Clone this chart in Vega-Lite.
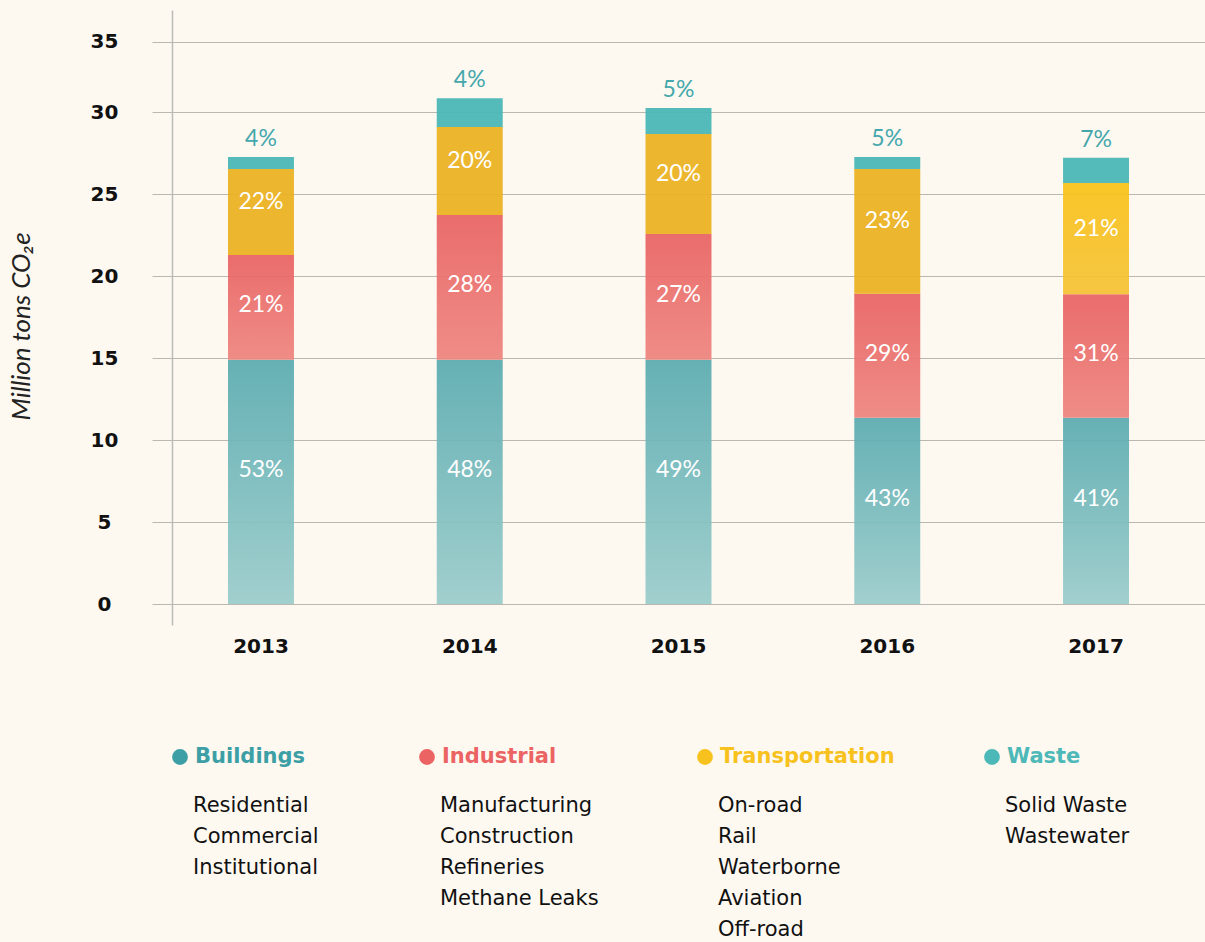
{
  "$schema": "https://vega.github.io/schema/vega-lite/v6.json",
  "width": 1053,
  "height": 615,
  "autosize": {"type": "none"},
  "padding": {"left": 152, "top": 10, "right": 0, "bottom": 317},
  "background": "#fdf9f1",
  "config": {"view": {"stroke": null}},
  "datasets": {
    "emissions": [
      {"year": 2013, "sector": "Buildings", "order": 1, "value": 14.9, "share": 0.53},
      {"year": 2013, "sector": "Industrial", "order": 2, "value": 6.38, "share": 0.21},
      {"year": 2013, "sector": "Transportation", "order": 3, "value": 5.24, "share": 0.22},
      {"year": 2013, "sector": "Waste", "order": 4, "value": 0.73, "share": 0.04},
      {"year": 2014, "sector": "Buildings", "order": 1, "value": 14.9, "share": 0.48},
      {"year": 2014, "sector": "Industrial", "order": 2, "value": 8.82, "share": 0.28},
      {"year": 2014, "sector": "Transportation", "order": 3, "value": 5.37, "share": 0.20},
      {"year": 2014, "sector": "Waste", "order": 4, "value": 1.88, "share": 0.04},
      {"year": 2015, "sector": "Buildings", "order": 1, "value": 14.9, "share": 0.49},
      {"year": 2015, "sector": "Industrial", "order": 2, "value": 7.66, "share": 0.27},
      {"year": 2015, "sector": "Transportation", "order": 3, "value": 6.10, "share": 0.20},
      {"year": 2015, "sector": "Waste", "order": 4, "value": 1.62, "share": 0.05},
      {"year": 2016, "sector": "Buildings", "order": 1, "value": 11.36, "share": 0.43},
      {"year": 2016, "sector": "Industrial", "order": 2, "value": 7.56, "share": 0.29},
      {"year": 2016, "sector": "Transportation", "order": 3, "value": 7.60, "share": 0.23},
      {"year": 2016, "sector": "Waste", "order": 4, "value": 0.74, "share": 0.05},
      {"year": 2017, "sector": "Buildings", "order": 1, "value": 11.36, "share": 0.41},
      {"year": 2017, "sector": "Industrial", "order": 2, "value": 7.52, "share": 0.31},
      {"year": 2017, "sector": "Transportation", "order": 3, "value": 6.79, "share": 0.21},
      {"year": 2017, "sector": "Waste", "order": 4, "value": 1.54, "share": 0.07}
    ],
    "legend": [
      {"group": "Buildings", "col": 0, "line": 0, "label": "Buildings", "kind": "head"},
      {"group": "Buildings", "col": 0, "line": 1, "label": "Residential", "kind": "item"},
      {"group": "Buildings", "col": 0, "line": 2, "label": "Commercial", "kind": "item"},
      {"group": "Buildings", "col": 0, "line": 3, "label": "Institutional", "kind": "item"},
      {"group": "Industrial", "col": 1, "line": 0, "label": "Industrial", "kind": "head"},
      {"group": "Industrial", "col": 1, "line": 1, "label": "Manufacturing", "kind": "item"},
      {"group": "Industrial", "col": 1, "line": 2, "label": "Construction", "kind": "item"},
      {"group": "Industrial", "col": 1, "line": 3, "label": "Refineries", "kind": "item"},
      {"group": "Industrial", "col": 1, "line": 4, "label": "Methane Leaks", "kind": "item"},
      {"group": "Transportation", "col": 2, "line": 0, "label": "Transportation", "kind": "head"},
      {"group": "Transportation", "col": 2, "line": 1, "label": "On-road", "kind": "item"},
      {"group": "Transportation", "col": 2, "line": 2, "label": "Rail", "kind": "item"},
      {"group": "Transportation", "col": 2, "line": 3, "label": "Waterborne", "kind": "item"},
      {"group": "Transportation", "col": 2, "line": 4, "label": "Aviation", "kind": "item"},
      {"group": "Transportation", "col": 2, "line": 5, "label": "Off-road", "kind": "item"},
      {"group": "Waste", "col": 3, "line": 0, "label": "Waste", "kind": "head"},
      {"group": "Waste", "col": 3, "line": 1, "label": "Solid Waste", "kind": "item"},
      {"group": "Waste", "col": 3, "line": 2, "label": "Wastewater", "kind": "item"}
    ]
  },
  "layer": [
    {
      "data": {"name": "emissions"},
      "transform": [
        {"stack": "value", "groupby": ["year"], "sort": [{"field": "order", "order": "ascending"}], "as": ["y0", "y1"]}
      ],
      "layer": [
        {
          "mark": {"type": "bar", "fillOpacity": 0.93},
          "encoding": {
            "x": {
              "field": "year", "type": "ordinal",
              "scale": {"paddingInner": 0.684, "paddingOuter": 0.364},
              "axis": {
                "title": null, "ticks": false, "tickSize": 0, "domain": false, "grid": false,
                "labelAngle": 0, "labelFont": "DejaVu Sans", "labelFontWeight": "bold",
                "labelFontSize": 20, "labelColor": "#111111", "labelPadding": 11
              }
            },
            "y": {
              "field": "y1", "type": "quantitative",
              "scale": {"domain": [-1.28, 30, 35, 37.24], "range": [615, 102, 31.7, 0], "nice": false, "zero": false},
              "axis": {
                "title": "Million tons CO₂e",
                "titleFont": "Lato", "titleFontStyle": "italic", "titleFontWeight": "normal",
                "titleFontSize": 26, "titleColor": "#222222",
                "titleAngle": 270, "titleBaseline": "alphabetic", "titleAlign": "center",
                "titleX": -143, "titleY": 316,
                "values": [0, 5, 10, 15, 20, 25, 30, 35],
                "offset": -20,
                "ticks": false, "tickSize": 0,
                "domain": true, "domainColor": "#bdbdb6", "domainWidth": 1.5,
                "grid": true, "gridColor": "#b9b9b2", "gridWidth": 1.2,
                "labelAlign": "center", "labelPadding": 68,
                "labelFont": "DejaVu Sans", "labelFontWeight": "bold",
                "labelFontSize": 20, "labelColor": "#111111"
              }
            },
            "y2": {"field": "y0"},
            "fill": {
              "condition": [
                {"test": "datum.sector === 'Buildings'", "value": {"gradient": "linear", "x1": 0, "y1": 0, "x2": 0, "y2": 1, "stops": [{"offset": 0, "color": "#5aabb0"}, {"offset": 1, "color": "#9acccb"}]}},
                {"test": "datum.sector === 'Industrial'", "value": {"gradient": "linear", "x1": 0, "y1": 0, "x2": 0, "y2": 1, "stops": [{"offset": 0, "color": "#e86262"}, {"offset": 1, "color": "#ee847e"}]}},
                {"test": "datum.sector === 'Transportation' && datum.year === 2017", "value": {"gradient": "linear", "x1": 0, "y1": 0, "x2": 0, "y2": 1, "stops": [{"offset": 0, "color": "#f9c218"}, {"offset": 1, "color": "#f5c236"}]}},
                {"test": "datum.sector === 'Transportation'", "value": "#ebb020"}
              ],
              "value": "#48b6b6"
            }
          }
        },
        {
          "transform": [
            {"filter": "datum.sector === 'Buildings'"},
            {"fold": ["y0", "y1"], "as": ["edge", "pos"]}
          ],
          "mark": {"type": "text", "dy": -12, "font": "Lato", "fontSize": 23, "color": "#ffffff"},
          "encoding": {
            "x": {"field": "year", "type": "ordinal"},
            "y": {"field": "pos", "aggregate": "mean", "type": "quantitative"},
            "text": {"field": "share", "type": "quantitative", "format": ".0%"}
          }
        },
        {
          "transform": [
            {"filter": "datum.sector === 'Industrial'"},
            {"fold": ["y0", "y1"], "as": ["edge", "pos"]}
          ],
          "mark": {"type": "text", "dy": -2, "font": "Lato", "fontSize": 23, "color": "#ffffff"},
          "encoding": {
            "x": {"field": "year", "type": "ordinal"},
            "y": {"field": "pos", "aggregate": "mean", "type": "quantitative"},
            "text": {"field": "share", "type": "quantitative", "format": ".0%"}
          }
        },
        {
          "transform": [
            {"filter": "datum.sector === 'Transportation'"},
            {"fold": ["y0", "y1"], "as": ["edge", "pos"]}
          ],
          "mark": {"type": "text", "dy": -10, "font": "Lato", "fontSize": 23, "color": "#ffffff"},
          "encoding": {
            "x": {"field": "year", "type": "ordinal"},
            "y": {"field": "pos", "aggregate": "mean", "type": "quantitative"},
            "text": {"field": "share", "type": "quantitative", "format": ".0%"}
          }
        },
        {
          "transform": [{"filter": "datum.sector === 'Waste'"}],
          "mark": {"type": "text", "dy": -18, "font": "Lato", "fontSize": 23, "color": "#45a7ac"},
          "encoding": {
            "x": {"field": "year", "type": "ordinal"},
            "y": {"field": "y1", "type": "quantitative"},
            "text": {"field": "share", "type": "quantitative", "format": ".0%"}
          }
        }
      ]
    },
    {
      "data": {"name": "legend"},
      "layer": [
        {
          "transform": [{"filter": "datum.kind === 'head'"}],
          "mark": {"type": "point", "filled": true, "size": 250, "opacity": 1, "strokeWidth": 0},
          "encoding": {
            "x": {"field": "col", "type": "quantitative", "scale": {"domain": [0, 1, 2, 3], "range": [41, 288, 566, 853], "nice": false, "zero": false}, "axis": null},
            "y": {"field": "line", "type": "quantitative", "scale": {"domain": [0, 1, 5], "range": [747, 796, 920], "nice": false, "zero": false}, "axis": null},
            "xOffset": {"value": -13},
            "fill": {
              "condition": [
                {"test": "datum.group === 'Buildings'", "value": "#3c9fa5"},
                {"test": "datum.group === 'Industrial'", "value": "#eb6363"},
                {"test": "datum.group === 'Transportation'", "value": "#f8c21e"}
              ],
              "value": "#4db8b8"
            }
          }
        },
        {
          "transform": [{"filter": "datum.kind === 'head'"}],
          "mark": {"type": "text", "align": "left", "dx": 2, "font": "DejaVu Sans", "fontWeight": "bold", "fontSize": 21},
          "encoding": {
            "x": {"field": "col", "type": "quantitative"},
            "y": {"field": "line", "type": "quantitative"},
            "text": {"field": "label"},
            "fill": {
              "condition": [
                {"test": "datum.group === 'Buildings'", "value": "#3c9fa5"},
                {"test": "datum.group === 'Industrial'", "value": "#eb6363"},
                {"test": "datum.group === 'Transportation'", "value": "#f8c21e"}
              ],
              "value": "#4db8b8"
            }
          }
        },
        {
          "transform": [{"filter": "datum.kind === 'item'"}],
          "mark": {"type": "text", "align": "left", "font": "DejaVu Sans", "fontSize": 21, "color": "#111111"},
          "encoding": {
            "x": {"field": "col", "type": "quantitative"},
            "y": {"field": "line", "type": "quantitative"},
            "text": {"field": "label"}
          }
        }
      ]
    }
  ],
  "resolve": {"scale": {"x": "independent", "y": "independent"}}
}
